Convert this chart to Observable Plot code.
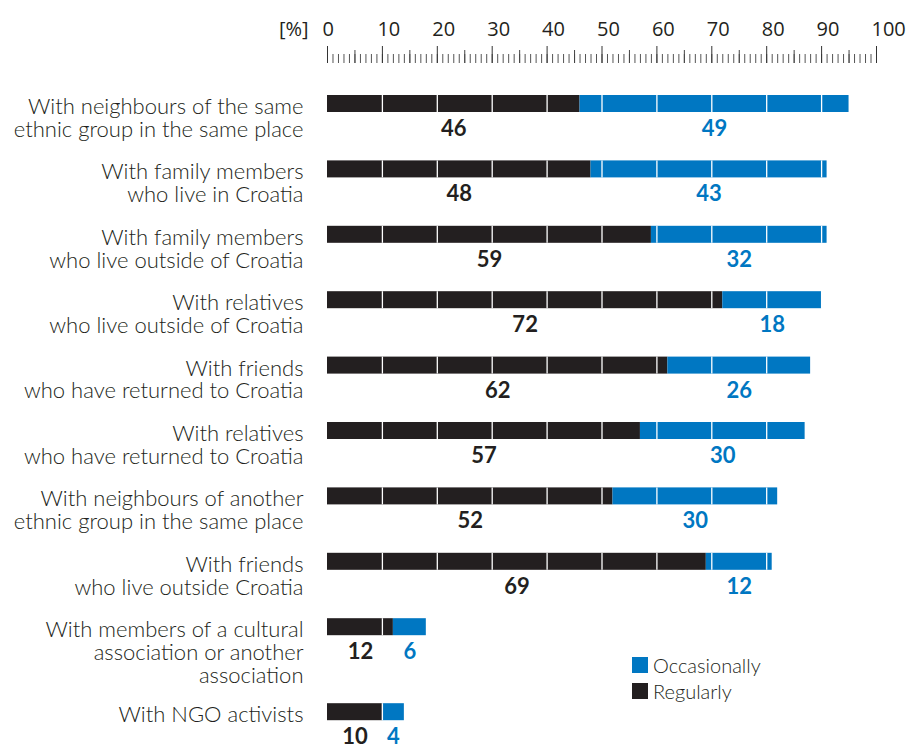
<!DOCTYPE html>
<html><head><meta charset="utf-8">
<script src="https://cdn.jsdelivr.net/npm/d3@7"></script>
<script src="https://cdn.jsdelivr.net/npm/@observablehq/plot@0.6"></script>
<style>
body{margin:0;background:#fff;}
#wrap{position:relative;width:912px;height:746px;}
#legend{position:absolute;left:632px;top:657px;font-family:Lato,sans-serif;font-size:20px;font-weight:300;color:#231f20;}
.item{display:flex;align-items:center;height:16px;margin-bottom:10px;line-height:16px;}
.sw{width:16px;height:16px;margin-right:5px;flex:none;}
</style></head><body><div id="wrap"></div>
<script>
const categories = [
  "With neighbours of the same\nethnic group in the same place",
  "With family members\nwho live in Croatia",
  "With family members\nwho live outside of Croatia",
  "With relatives\nwho live outside of Croatia",
  "With friends\nwho have returned to Croatia",
  "With relatives\nwho have returned to Croatia",
  "With neighbours of another\nethnic group in the same place",
  "With friends\nwho live outside Croatia",
  "With members of a cultural\nassociation or another\nassociation",
  "With NGO activists"
];
const regularly    = [46, 48, 59, 72, 62, 57, 52, 69, 12, 10];
const occasionally = [49, 43, 32, 18, 26, 30, 30, 12, 6, 4];
const seriesNames  = ["Occasionally", "Regularly"];
const seriesColors = ["#0077c2", "#231f20"];
const axisTicks    = d3.range(0, 101, 10);
const axisUnit     = "[%]";

// vertical layout derived from the number of label lines
const lineCounts = categories.map(c => c.split("\n").length);
const rowPos = [];
let acc = 0;
lineCounts.forEach(n => { rowPos.push(acc); acc += 26.2 + 19.6 * n; });
const half = 8.5;

const rows = categories.map((c, i) => ({label: c, pos: rowPos[i], r: regularly[i], o: occasionally[i]}));
const segments = rows.flatMap(d => [
  {series: "Regularly", x1: 0, x2: d.r, v: d.r, pos: d.pos},
  {series: "Occasionally", x1: d.r, x2: d.r + d.o, v: d.o, pos: d.pos}
]);
const gridCuts = rows.flatMap(d => d3.range(10, 100, 10).map(t => ({t, pos: d.pos})));
const colorOf = s => seriesColors[seriesNames.indexOf(s)];

const chart = Plot.plot({
  width: 912, height: 746,
  marginLeft: 327, marginRight: 36, marginTop: 62, marginBottom: 0,
  x: {domain: [0, 100]},
  y: {domain: [-41.5, 642.5], reverse: true, axis: null},
  color: {domain: seriesNames, range: seriesColors},
  style: {fontFamily: "Lato, sans-serif", color: "#231f20", background: "white"},
  marks: [
    Plot.axisX({anchor: "top", ticks: d3.range(0, 101, 1), tickSize: 9, text: null, stroke: "#555", strokeWidth: 1}),
    Plot.axisX({anchor: "top", ticks: d3.range(5, 100, 10), tickSize: 13, text: null, stroke: "#444", strokeWidth: 1}),
    Plot.axisX({anchor: "top", ticks: axisTicks, tickSize: 17, text: null, stroke: "#333", strokeWidth: 1, label: null}),
    Plot.text(axisTicks, {x: d => d, frameAnchor: "top", textAnchor: "start", dx: -5, dy: -41, fontSize: 20,
      fontFamily: "Open Sans, sans-serif", fill: "#231f20"}),
    Plot.text([axisUnit], {frameAnchor: "top-left", textAnchor: "end", dx: -19, dy: -41, fontSize: 20,
      fontFamily: "Open Sans, sans-serif", fill: "#231f20"}),
    Plot.rect(segments, {x1: "x1", x2: "x2", y1: d => d.pos - half, y2: d => d.pos + half, fill: "series"}),
    Plot.ruleX(gridCuts, {x: "t", y1: d => d.pos - half, y2: d => d.pos + half, stroke: "white", strokeWidth: 1.3}),
    Plot.text(segments, {x: d => (d.x1 + d.x2) / 2, y: d => d.pos + 25, text: d => String(d.v),
      fill: d => colorOf(d.series), fontWeight: 700, fontSize: 22}),
    Plot.text(rows, {frameAnchor: "left", y: "pos", text: "label", textAnchor: "end", lineAnchor: "top",
      dx: -24, dy: -6, fontSize: 22, lineHeight: 1.03, fontWeight: 300, fill: "#231f20"})
  ]
});
const wrap = document.getElementById("wrap");
wrap.appendChild(chart);
const legend = document.createElement("div");
legend.id = "legend";
seriesNames.forEach((s, i) => {
  const it = document.createElement("div");
  it.className = "item";
  const sw = document.createElement("span");
  sw.className = "sw";
  sw.style.background = seriesColors[i];
  const t = document.createElement("span");
  t.textContent = s;
  it.appendChild(sw); it.appendChild(t);
  legend.appendChild(it);
});
wrap.appendChild(legend);
</script></body></html>
